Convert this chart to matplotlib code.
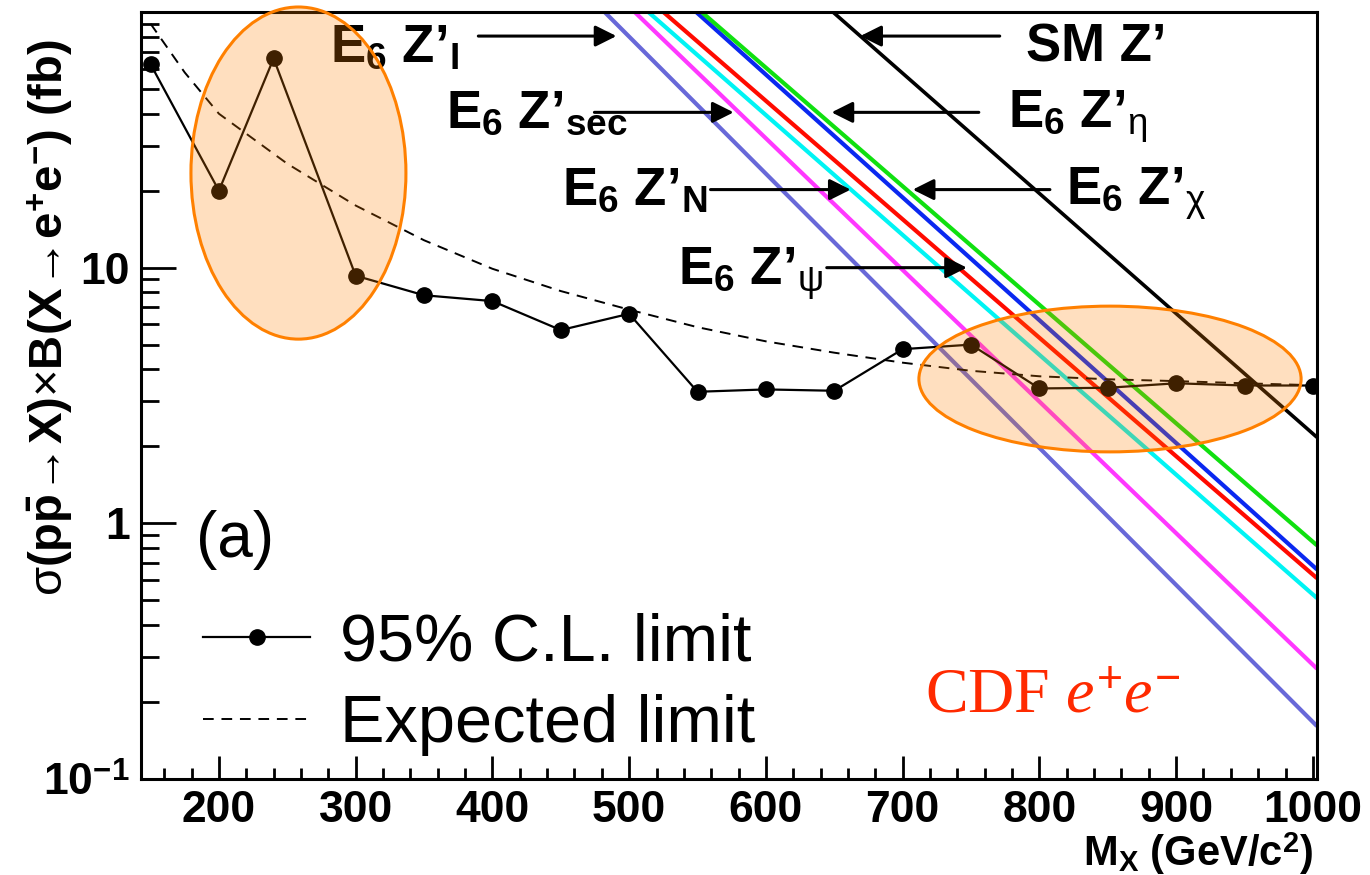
import matplotlib
matplotlib.use("Agg")
import matplotlib.pyplot as plt
from matplotlib.patches import Ellipse
from matplotlib.ticker import FixedLocator, LogLocator, MultipleLocator, NullFormatter, FuncFormatter

plt.rcParams['font.family'] = ['Liberation Sans', 'DejaVu Sans']
plt.rcParams['font.weight'] = 'bold'
plt.rcParams['mathtext.fontset'] = 'custom'
plt.rcParams['mathtext.rm'] = 'Liberation Sans:weight=normal'
plt.rcParams['mathtext.bf'] = 'Liberation Sans:weight=bold'
plt.rcParams['mathtext.it'] = 'Liberation Serif:style=italic:weight=normal'
plt.rcParams['mathtext.sf'] = 'Liberation Sans:weight=normal'

# observed 95% C.L. limit on sigma x B (fb) vs mass (GeV/c^2)
mass_obs = [150, 200, 240, 300, 350, 400, 450, 500, 550, 600, 650, 700, 750, 800, 850, 900, 950, 1000]
limit_obs = [62.5, 20.0, 65.8, 9.3, 7.8, 7.4, 5.7, 6.6, 3.27, 3.34, 3.30, 4.8, 5.0, 3.37, 3.39, 3.53, 3.46, 3.46]

# expected limit
mass_exp = [150, 175, 200, 250, 300, 350, 400, 450, 500, 550, 600, 650, 700, 750, 800, 850, 900, 950, 1000]
limit_exp = [90, 58, 40, 25.5, 17.5, 12.8, 9.9, 8.1, 6.85, 5.85, 5.15, 4.65, 4.25, 3.95, 3.76, 3.66, 3.6, 3.53, 3.47]

# model predictions (mass, sigma x B)
zp_I_mass, zp_I_xs = [482, 1003], [100, 0.161]
zp_sec_mass, zp_sec_xs = [504, 1003], [100, 0.27]
zp_N_mass, zp_N_xs = [514, 1003], [100, 0.51]
zp_psi_mass, zp_psi_xs = [525, 1003], [100, 0.61]
zp_chi_mass, zp_chi_xs = [549, 1003], [100, 0.66]
zp_eta_mass, zp_eta_xs = [553, 1003], [100, 0.82]
zp_sm_mass, zp_sm_xs = [649, 1003], [100, 2.17]

fig = plt.figure(figsize=(13.7, 8.75), dpi=100)
ax = fig.add_axes([0.1029, 0.1097, 0.8584, 0.8766])

models = [
    (zp_I_mass, zp_I_xs, '#6868d8', 3.0),
    (zp_sec_mass, zp_sec_xs, '#ff38ff', 3.0),
    (zp_N_mass, zp_N_xs, '#00f4f4', 3.0),
    (zp_psi_mass, zp_psi_xs, '#ff0a00', 3.0),
    (zp_chi_mass, zp_chi_xs, '#0a28f0', 3.0),
    (zp_eta_mass, zp_eta_xs, '#10e010', 3.0),
    (zp_sm_mass, zp_sm_xs, 'black', 2.6),
]
for m, xs, c, lw in models:
    ax.plot(m, xs, color=c, lw=lw, zorder=2, solid_capstyle='butt')

ax.plot(mass_exp, limit_exp, color='black', lw=1.4, ls=(0, (5.5, 4)), zorder=3,
        label='Expected limit')
ax.plot(mass_obs, limit_obs, color='black', lw=1.6, marker='o', ms=11, zorder=4,
        label='95% C.L. limit')

ax.set_yscale('log')
ax.set_xlim(143, 1003)
ax.set_ylim(0.1, 100)

ax.xaxis.set_major_locator(MultipleLocator(100))
ax.xaxis.set_minor_locator(MultipleLocator(20))
ax.yaxis.set_major_locator(FixedLocator([0.1, 1, 10, 100]))
ax.yaxis.set_minor_locator(LogLocator(base=10, subs=range(2, 10)))
ax.yaxis.set_minor_formatter(NullFormatter())
ylabels = {0.1: r'10$^{\mathbf{-1}}$', 1: '1', 10: '10', 100: ''}
ax.yaxis.set_major_formatter(FuncFormatter(lambda v, p: ylabels.get(round(v, 3), '')))
ax.xaxis.set_major_formatter(FuncFormatter(lambda v, p: '%d' % v))

ax.tick_params(axis='both', which='both', direction='in', top=False, right=False, width=2)
ax.tick_params(axis='x', which='major', length=16.5, labelsize=32, pad=8)
ax.tick_params(axis='x', which='minor', length=8)
ax.tick_params(axis='y', which='major', length=25, labelsize=32, pad=8)
ax.tick_params(axis='y', which='minor', length=13)
for s in ax.spines.values():
    s.set_linewidth(2.2)

fig.text(1313 / 1370, 1 - 866 / 875, r'M$_{\mathbf{X}}$ (GeV/c$^{\mathbf{2}}$)',
         ha='right', va='baseline', fontsize=30)
fig.text(50 / 1370, 1 - 318 / 875,
         r'$\mathrm{\sigma}$(p$\mathbf{\bar{p}}$$\!\rightarrow\!$X)$\times$B(X$\!\rightarrow\!$e$^{\mathbf{+}}$e$^{\mathbf{-}}$) (fb)',
         rotation=90, ha='center', va='center', fontsize=34)

# model labels with arrows
labels = [
    (r'E$_{\mathbf{6}}$ Z’$_{\mathbf{I}}$', 0.1607, 0.9348, (389.7, 80.5), (490.7, 80.5)),
    (r'E$_{\mathbf{6}}$ Z’$_{\mathbf{sec}}$', 0.2594, 0.8488, (474.6, 40.5), (576.4, 40.5)),
    (r'E$_{\mathbf{6}}$ Z’$_{\mathbf{N}}$', 0.3580, 0.7484, (559.5, 20.2), (662.0, 20.2)),
    (r'E$_{\mathbf{6}}$ Z’$_{\mathrm{\psi}}$', 0.4566, 0.6441, (644.5, 10.0), (747.0, 10.0)),
    ('SM Z’', 0.7526, 0.9361, (771.0, 80.5), (669.0, 80.5)),
    (r'E$_{\mathbf{6}}$ Z’$_{\mathrm{\eta}}$', 0.7372, 0.8488, (755.7, 40.5), (648.0, 40.5)),
    (r'E$_{\mathbf{6}}$ Z’$_{\mathrm{\chi}}$', 0.7866, 0.7484, (807.7, 20.2), (707.4, 20.2)),
]
for txt, tx, ty, tail, tip in labels:
    ax.text(tx, ty, txt, transform=ax.transAxes, fontsize=38, ha='left', va='baseline', zorder=6)
    ax.annotate('', xy=tip, xytext=tail, zorder=6,
                arrowprops=dict(arrowstyle='-|>', lw=2.2, color='black',
                                mutation_scale=32, shrinkA=0, shrinkB=0))

ax.text(0.0468, 0.289, '(a)', transform=ax.transAxes, fontsize=46,
        fontweight='normal', ha='left', va='baseline')
ax.text(0.6667, 0.0873, r'CDF $e^{+}e^{-}$', transform=ax.transAxes, fontsize=46,
        fontweight='normal', family='Liberation Serif', color='#ff2a00',
        ha='left', va='baseline')

leg = ax.legend(handles=ax.get_lines()[-1:] + ax.get_lines()[-2:-1], loc='lower left',
                bbox_to_anchor=(0.053, 0.03), frameon=False, borderpad=0, borderaxespad=0,
                handlelength=1.6, handletextpad=0.45, labelspacing=0.3,
                prop={'family': 'Liberation Sans', 'weight': 'normal', 'size': 48})

# highlighted regions
for (cx, cy, w, h) in [(0.1339, 0.790, 0.1828, 0.433), (0.824, 0.5215, 0.325, 0.190)]:
    ax.add_patch(Ellipse((cx, cy), w, h, transform=ax.transAxes, facecolor=(1, 0.5, 0, 0.25),
                         edgecolor='#ff8000', lw=2.2, zorder=7, clip_on=False))

fig.savefig('out.png', dpi=100)
